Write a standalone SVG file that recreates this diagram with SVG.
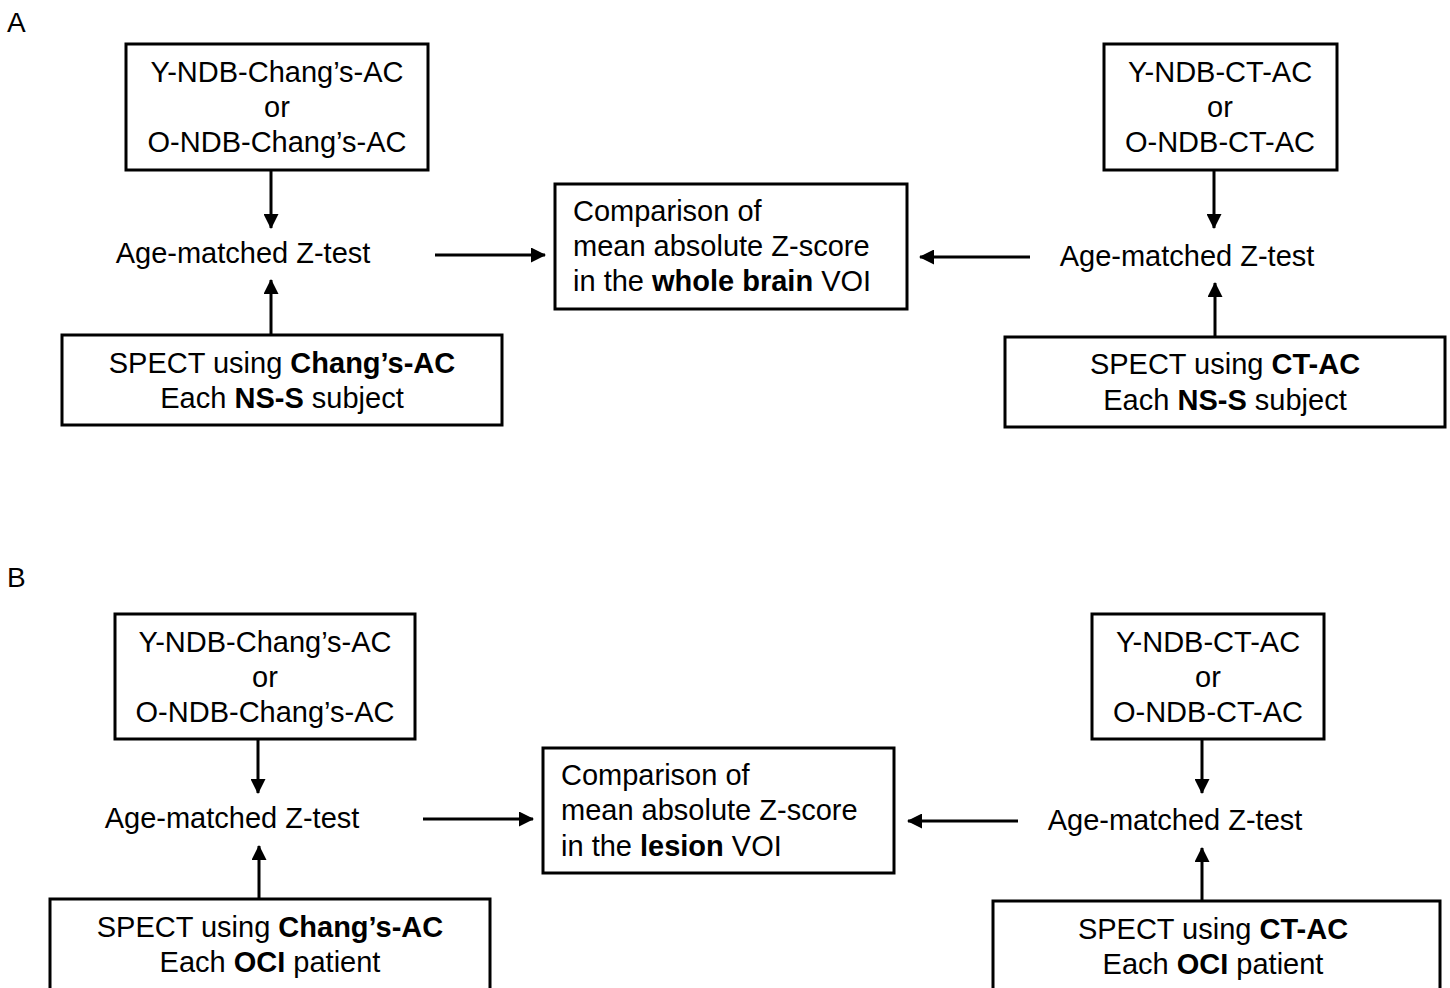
<svg xmlns="http://www.w3.org/2000/svg" width="1450" height="988" viewBox="0 0 1450 988">
<defs>
<marker id="ah" markerUnits="userSpaceOnUse" markerWidth="15" markerHeight="15" viewBox="0 0 15 15" refX="14" refY="7.5" orient="auto">
<path d="M0,0 L15,7.5 L0,15 Z" fill="#000"/>
</marker>
</defs>
<style>
.box{fill:#fff;stroke:#000;stroke-width:3}
.t{font-family:"Liberation Sans",Arial,sans-serif;font-size:29px;fill:#000}
.c{text-anchor:middle}
.b{font-weight:bold}
.lbl{font-family:"Liberation Sans",Arial,sans-serif;font-size:28px;fill:#000}
.con{stroke:#000;stroke-width:3;fill:none;marker-end:url(#ah)}
</style>
<rect width="1450" height="988" fill="#fff"/>
<text class="lbl" x="7" y="32">A</text>
<text class="lbl" x="7" y="587">B</text>

<g id="connectors">
<line class="con" x1="271" y1="170" x2="271" y2="228"/>
<line class="con" x1="271" y1="337" x2="271" y2="280"/>
<line class="con" x1="435" y1="255" x2="545" y2="255"/>
<line class="con" x1="1030" y1="257" x2="920" y2="257"/>
<line class="con" x1="1214" y1="170" x2="1214" y2="228"/>
<line class="con" x1="1215" y1="338" x2="1215" y2="283"/>
<line class="con" x1="258" y1="739" x2="258" y2="793"/>
<line class="con" x1="259" y1="900" x2="259" y2="846"/>
<line class="con" x1="423" y1="819" x2="533" y2="819"/>
<line class="con" x1="1018" y1="821" x2="908" y2="821"/>
<line class="con" x1="1202" y1="739" x2="1202" y2="793"/>
<line class="con" x1="1202" y1="902" x2="1202" y2="848"/>
</g>

<g id="a_ndb_chang">
<rect class="box" x="126" y="44" width="302" height="126"/>
<text class="t c" x="277" y="82">Y-NDB-Chang’s-AC</text>
<text class="t c" x="277" y="117">or</text>
<text class="t c" x="277" y="152">O-NDB-Chang’s-AC</text>
</g>
<g id="a_z_left">
<text class="t c" x="243" y="263">Age-matched Z-test</text>
</g>
<g id="a_spect_chang">
<rect class="box" x="62" y="335" width="440" height="90"/>
<text class="t c" x="282" y="373">SPECT using <tspan class="b">Chang’s-AC</tspan></text>
<text class="t c" x="282" y="408">Each <tspan class="b">NS-S</tspan> subject</text>
</g>
<g id="a_compare">
<rect class="box" x="555" y="184" width="352" height="125"/>
<text class="t" x="573" y="221">Comparison of</text>
<text class="t" x="573" y="256">mean absolute Z-score</text>
<text class="t" x="573" y="291">in the <tspan class="b">whole brain</tspan> VOI</text>
</g>
<g id="a_ndb_ct">
<rect class="box" x="1104" y="44" width="233" height="126"/>
<text class="t c" x="1220" y="82">Y-NDB-CT-AC</text>
<text class="t c" x="1220" y="117">or</text>
<text class="t c" x="1220" y="152">O-NDB-CT-AC</text>
</g>
<g id="a_z_right">
<text class="t c" x="1187" y="266">Age-matched Z-test</text>
</g>
<g id="a_spect_ct">
<rect class="box" x="1005" y="337" width="440" height="90"/>
<text class="t c" x="1225" y="374">SPECT using <tspan class="b">CT-AC</tspan></text>
<text class="t c" x="1225" y="410">Each <tspan class="b">NS-S</tspan> subject</text>
</g>

<g id="b_ndb_chang">
<rect class="box" x="115" y="614" width="300" height="125"/>
<text class="t c" x="265" y="652">Y-NDB-Chang’s-AC</text>
<text class="t c" x="265" y="687">or</text>
<text class="t c" x="265" y="722">O-NDB-Chang’s-AC</text>
</g>
<g id="b_z_left">
<text class="t c" x="232" y="828">Age-matched Z-test</text>
</g>
<g id="b_spect_chang">
<rect class="box" x="50" y="899" width="440" height="110"/>
<text class="t c" x="270" y="937">SPECT using <tspan class="b">Chang’s-AC</tspan></text>
<text class="t c" x="270" y="972">Each <tspan class="b">OCI</tspan> patient</text>
</g>
<g id="b_compare">
<rect class="box" x="543" y="748" width="351" height="125"/>
<text class="t" x="561" y="785">Comparison of</text>
<text class="t" x="561" y="820">mean absolute Z-score</text>
<text class="t" x="561" y="856">in the <tspan class="b">lesion</tspan> VOI</text>
</g>
<g id="b_ndb_ct">
<rect class="box" x="1092" y="614" width="232" height="125"/>
<text class="t c" x="1208" y="652">Y-NDB-CT-AC</text>
<text class="t c" x="1208" y="687">or</text>
<text class="t c" x="1208" y="722">O-NDB-CT-AC</text>
</g>
<g id="b_z_right">
<text class="t c" x="1175" y="830">Age-matched Z-test</text>
</g>
<g id="b_spect_ct">
<rect class="box" x="993" y="901" width="447" height="110"/>
<text class="t c" x="1213" y="939">SPECT using <tspan class="b">CT-AC</tspan></text>
<text class="t c" x="1213" y="974">Each <tspan class="b">OCI</tspan> patient</text>
</g>
</svg>
